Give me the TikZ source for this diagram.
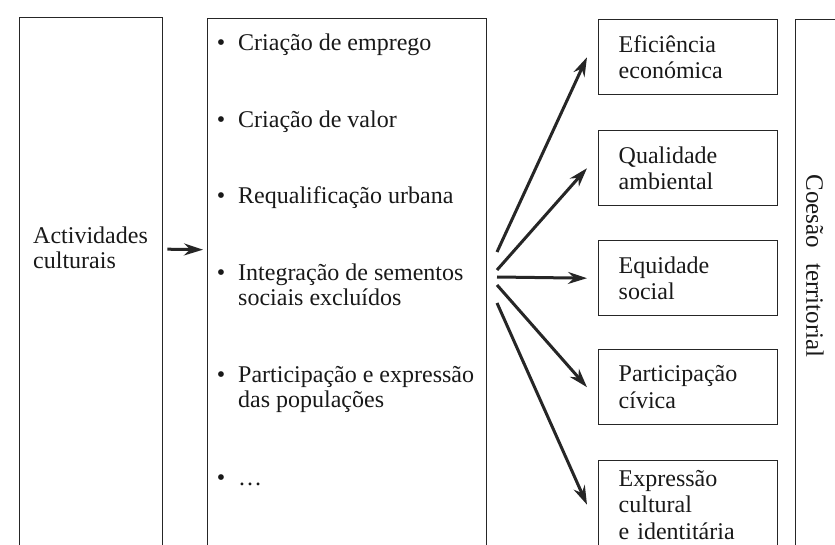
\documentclass[tikz,border=0pt]{standalone}
\usepackage{fontspec}
\setmainfont{Liberation Serif}
\usetikzlibrary{arrows.meta}

\begin{document}
\begin{tikzpicture}[
    x=1pt, y=-1pt,
    frame/.style={rectangle, draw=black!85, line width=1.4pt, anchor=north west, inner sep=0pt},
    box/.style={frame, minimum width=179pt, minimum height=75pt, text width=139pt, inner xsep=20pt, align=left, text=black!90, font=\fontsize{24}{26.5}\selectfont},
    txt/.style={anchor=north west, inner sep=0pt, align=left, text=black!90, font=\fontsize{24}{25.5}\selectfont},
    arr/.style={-{Stealth[length=19pt, width=12pt]}, line width=3pt, draw=black!85}
]
\useasboundingbox[fill=white] (0,0) rectangle (835,545);

% columns
\node[frame, minimum width=143pt, minimum height=531pt] (act) at (19,17) {};
\node[frame, minimum width=279pt, minimum height=530pt] (mid) at (207,18) {};
\node[frame, minimum width=60pt, minimum height=530pt] (coh) at (795,19) {};

\node[txt] (actlbl) at (33,225) {\strut Actividades\\culturais};

% effects
\node[txt] (i1) at (238,32) {\strut\llap{\textbullet\hspace{13pt}}Criação de emprego};
\node[txt] (i2) at (238,109) {\strut\llap{\textbullet\hspace{13pt}}Criação de valor};
\node[txt] (i3) at (238,185) {\strut\llap{\textbullet\hspace{13pt}}Requalificação urbana};
\node[txt] (i4) at (238,262) {\strut\llap{\textbullet\hspace{13pt}}Integração de sementos\\sociais excluídos};
\node[txt] (i5) at (238,364) {\strut\llap{\textbullet\hspace{13pt}}Participação e expressão\\das populações};
\node[txt] (i6) at (238,467) {\strut\llap{\textbullet\hspace{13pt}}\dots};

% results
\node[box] (eco) at (598,19) {Eficiência\\económica};
\node[box] (amb) at (598,130) {Qualidade\\ambiental};
\node[box] (equ) at (598,240) {Equidade\\social};
\node[box] (par) at (598,349) {Participação\\cívica};
\node[box, minimum height=88pt] (exp) at (598,460) {Expressão\\cultural\\e identitária};

\node[rotate=-90, inner sep=0pt, text=black!90, font=\fontsize{25}{26.5}\selectfont] (cohlbl) at (815,266) {Coesão\hspace{0.6em}territorial};

\draw[arr] ([shift={(4pt,34pt)}]act.east) -- ([shift={(-4pt,34pt)}]mid.west);

\coordinate (fan) at (497,277);
\foreach \tgt/\dy in {eco/25, amb/7, equ/0, par/-8, exp/-26}
  \draw[arr] ([yshift=\dy pt]fan) -- ([xshift=-11pt]\tgt.west);
\end{tikzpicture}
\end{document}
